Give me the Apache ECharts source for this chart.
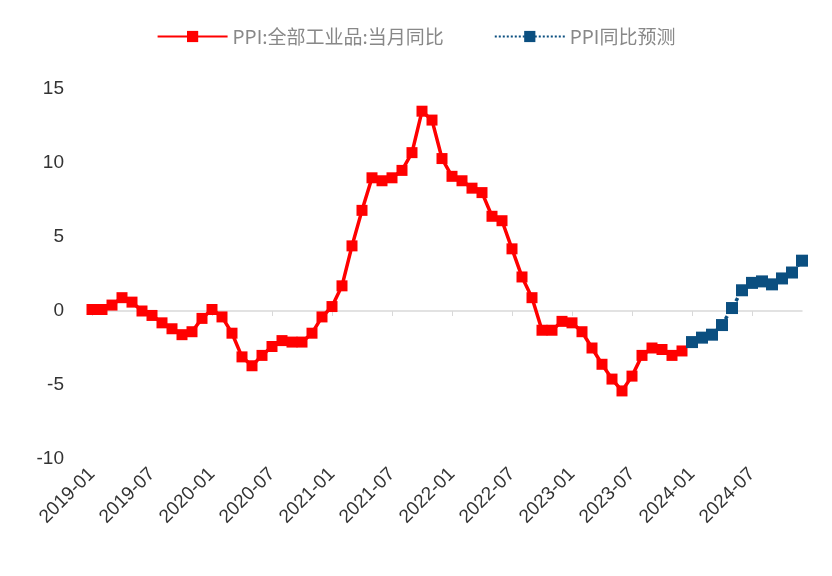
<!DOCTYPE html>
<html><head><meta charset="utf-8">
<script src="https://cdn.jsdelivr.net/npm/echarts@6/dist/echarts.min.js"></script>
</head><body style="margin:0;background:#fff">
<div id="main" style="width:832px;height:576px"></div>
<script>
var months = [];
for (var y = 2019; y <= 2024; y++) for (var m = 1; m <= 12; m++) months.push(y + '-' + (m < 10 ? '0' + m : m));

var ppiActual = [0.1,0.1,0.4,0.9,0.6,0,-0.3,-0.8,-1.2,-1.6,-1.4,-0.5,
  0.1,-0.4,-1.5,-3.1,-3.7,-3.0,-2.4,-2.0,-2.1,-2.1,-1.5,-0.4,
  0.3,1.7,4.4,6.8,9.0,8.8,9.0,9.5,10.7,13.5,12.9,10.3,
  9.1,8.8,8.3,8.0,6.4,6.1,4.2,2.3,0.9,-1.3,-1.3,-0.7,
  -0.8,-1.4,-2.5,-3.6,-4.6,-5.4,-4.4,-3.0,-2.5,-2.6,-3.0,-2.7];
var ppiForecast = [-2.1,-1.8,-1.6,-0.95,0.2,1.4,1.9,2.0,1.8,2.2,2.6,3.4];

var redData = ppiActual.concat(ppiForecast.map(function(){ return null; }));
var blueData = ppiActual.map(function(){ return null; }).concat(ppiForecast);

var myChart = echarts.init(document.getElementById('main'));
myChart.setOption({
  animation: false,
  legend: {
    top: 22, left: 'center', itemGap: 50, itemWidth: 70, itemHeight: 14,
    textStyle: { color: '#888', fontSize: 19, fontFamily: 'Noto Sans CJK SC' },
    data: ['PPI:全部工业品:当月同比', 'PPI同比预测']
  },
  grid: { left: 92, right: 30, top: 89, bottom: 117 },
  xAxis: [{
    type: 'category', data: months, boundaryGap: false,
    axisLine: { onZero: true, lineStyle: { color: '#d9d9d9', width: 1.5 } },
    axisTick: { interval: 5, lineStyle: { color: '#d9d9d9' } },
    axisLabel: { show: false }
  }, {
    type: 'category', data: months, boundaryGap: false, position: 'bottom',
    axisLine: { show: false }, axisTick: { show: false },
    axisLabel: { interval: 5, rotate: 45, color: '#333', fontSize: 19, fontFamily: 'Liberation Sans', margin: 12 }
  }],
  yAxis: {
    type: 'value', min: -10, max: 15, interval: 5,
    axisLine: { show: false }, axisTick: { show: false }, splitLine: { show: false },
    axisLabel: { color: '#333', fontSize: 19, fontFamily: 'Liberation Sans', margin: 28 }
  },
  series: [{
    name: 'PPI:全部工业品:当月同比', type: 'line', data: redData,
    symbol: 'rect', symbolSize: 11, showSymbol: true, showAllSymbol: true, color: '#ff0000',
    lineStyle: { width: 3.5, color: '#ff0000' }, itemStyle: { color: '#ff0000' }
  }, {
    name: 'PPI同比预测', type: 'line', data: blueData,
    symbol: 'rect', symbolSize: 12, showSymbol: true, showAllSymbol: true, color: '#0b4f80',
    lineStyle: { width: 3.5, type: 'dotted', color: '#0b4f80' }, itemStyle: { color: '#0b4f80' }
  }]
});
</script>
</body></html>
